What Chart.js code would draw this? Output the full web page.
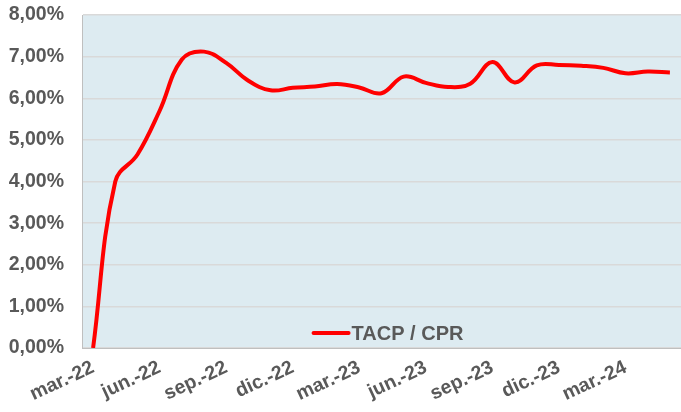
<!DOCTYPE html>
<html>
<head>
<meta charset="utf-8">
<script src="https://cdn.jsdelivr.net/npm/chart.js@4"></script>
<style>
  html, body { margin: 0; padding: 0; background: #fff; }
  #wrap { width: 681px; height: 412px; }
</style>
</head>
<body>
<div id="wrap"><canvas id="myChart" width="681" height="412"></canvas></div>
<script>
// monthly labels, mar-22 .. may-24
let months = [
  'mar.-22', 'abr.-22', 'may.-22', 'jun.-22', 'jul.-22', 'ago.-22', 'sep.-22', 'oct.-22', 'nov.-22',
  'dic.-22', 'ene.-23', 'feb.-23', 'mar.-23', 'abr.-23', 'may.-23', 'jun.-23', 'jul.-23', 'ago.-23',
  'sep.-23', 'oct.-23', 'nov.-23', 'dic.-23', 'ene.-24', 'feb.-24', 'mar.-24', 'abr.-24', 'may.-24'
];
let tacp = [
  0.00, 4.00, 4.65, 5.70, 6.93, 7.12, 6.85, 6.42, 6.19,
  6.25, 6.28, 6.34, 6.26, 6.12, 6.52, 6.37, 6.27, 6.35,
  6.87, 6.38, 6.79, 6.80, 6.78, 6.73, 6.60, 6.64, 6.62
];
let seriesName = 'TACP / CPR';
let lineColor = '#FF0000';
let yTicks = [0, 1, 2, 3, 4, 5, 6, 7, 8];

let textColor = '#595959';
let fontFamily = "'Liberation Sans', Arial, sans-serif";

// light blue plot background
let plotBg = {
  id: 'plotBg',
  beforeDraw(chart) {
    let a = chart.chartArea;
    let c = chart.ctx;
    c.save();
    c.fillStyle = '#DDEBF1';
    c.fillRect(a.left, a.top, a.right - a.left, a.bottom - a.top);
    c.restore();
  }
};

// legend sits inside the plot near the bottom
let innerLegend = {
  id: 'innerLegend',
  afterDraw(chart) {
    let a = chart.chartArea;
    let c = chart.ctx;
    let ds = chart.data.datasets[0];
    c.save();
    c.font = 'bold 20px ' + fontFamily;
    let tw = c.measureText(ds.label).width;
    let lineW = 35, gap = 3;
    let total = lineW + gap + tw;
    let x0 = (a.left + a.right) / 2 - total / 2 + 7;
    let y = a.bottom - 15;
    c.strokeStyle = ds.borderColor;
    c.lineWidth = 4;
    c.lineCap = 'round';
    c.beginPath();
    c.moveTo(x0, y);
    c.lineTo(x0 + lineW, y);
    c.stroke();
    c.fillStyle = textColor;
    c.textBaseline = 'middle';
    c.fillText(ds.label, x0 + lineW + gap, y + 1);
    c.restore();
  }
};

var ctx = document.getElementById('myChart').getContext('2d');
var chart = new Chart(ctx, {
  type: 'line',
  data: {
    labels: months,
    datasets: [{
      label: seriesName,
      data: tacp,
      borderColor: lineColor,
      backgroundColor: lineColor,
      borderWidth: 4,
      pointRadius: 0,
      tension: 0.4,
      fill: false
    }]
  },
  options: {
    responsive: false,
    animation: false,
    layout: { padding: { top: 15, right: -2, left: 0, bottom: 0 } },
    plugins: {
      legend: { display: false },
      tooltip: { enabled: false }
    },
    scales: {
      x: {
        offset: true,
        grid: { display: false, drawTicks: false },
        border: { color: '#BFBFBF', width: 1 },
        ticks: {
          autoSkip: false,
          minRotation: 25,
          maxRotation: 25,
          padding: 8,
          color: textColor,
          font: { family: fontFamily, size: 19.5, weight: 'bold' },
          callback: function(v, i) { return i % 3 === 0 ? months[i] : ''; }
        },
        afterFit: function(s) { s.height = 64; s.paddingRight = 0; }
      },
      y: {
        min: 0,
        max: 8,
        afterBuildTicks: function(s) { s.ticks = yTicks.map(function(v) { return { value: v }; }); },
        grid: { color: '#D9D9D9', lineWidth: 1.5, drawTicks: false },
        border: { color: '#BFBFBF', width: 1 },
        ticks: {
          padding: 18,
          color: textColor,
          font: { family: fontFamily, size: 19.5, weight: 'bold' },
          callback: function(v) { return v.toFixed(2).replace('.', ',') + '%'; }
        },
        afterFit: function(s) { s.width = 82; s.paddingTop = 0; s.paddingBottom = 0; }
      }
    }
  },
  plugins: [plotBg, innerLegend]
});
</script>
</body>
</html>
